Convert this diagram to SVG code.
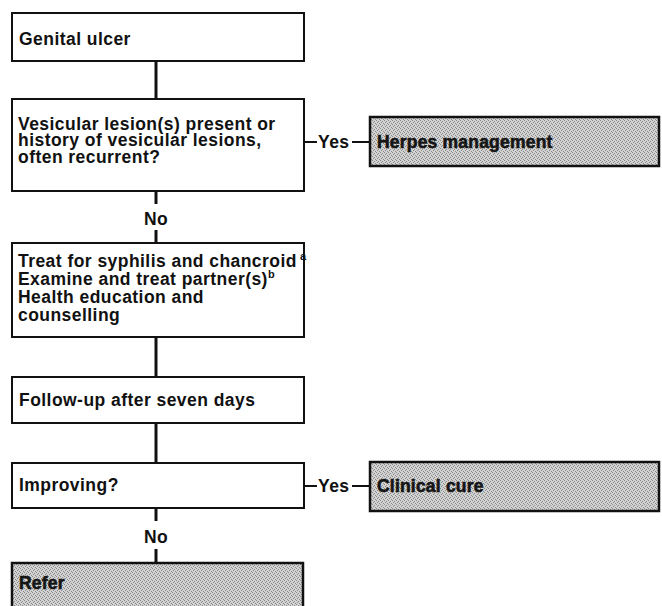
<svg xmlns="http://www.w3.org/2000/svg" width="662" height="606" viewBox="0 0 662 606">
<style>
  .box { fill: #ffffff; stroke: #111; stroke-width: 2; }
  .shade { fill: url(#stipple); stroke: #111; stroke-width: 2.5; }
  .t { font-family: "Liberation Sans", Arial, Helvetica, sans-serif; font-weight: bold; font-size: 17.5px; letter-spacing: 0.45px; fill: #111; }
  .ts { fill: #151515; stroke: #151515; stroke-width: 0.6px; letter-spacing: 0.2px; }
  .c { stroke: #111; stroke-width: 3; fill: none; }
  .h { stroke: #111; stroke-width: 2; fill: none; }
</style>
<defs>
  <pattern id="stipple" width="4" height="4" patternUnits="userSpaceOnUse">
    <rect width="4" height="4" fill="#d2d2d2"/>
    <rect x="0" y="0" width="1" height="1" fill="#8a8a8a"/>
    <rect x="2" y="1" width="1" height="1" fill="#8a8a8a"/>
    <rect x="1" y="2" width="1" height="1" fill="#8a8a8a"/>
    <rect x="3" y="3" width="1" height="1" fill="#8a8a8a"/>
  </pattern>
</defs>
<rect width="662" height="606" fill="#ffffff"/>

<g id="connectors">
  <line class="c" x1="156" y1="61" x2="156" y2="99"/>
  <line class="c" x1="156" y1="191" x2="156" y2="204"/>
  <line class="c" x1="156" y1="230" x2="156" y2="243"/>
  <line class="c" x1="156" y1="337" x2="156" y2="377"/>
  <line class="c" x1="156" y1="423" x2="156" y2="463"/>
  <line class="c" x1="156" y1="508" x2="156" y2="521"/>
  <line class="c" x1="156" y1="549" x2="156" y2="563"/>
  <line class="h" x1="304" y1="142" x2="317" y2="142"/>
  <line class="h" x1="352" y1="142" x2="370" y2="142"/>
  <line class="h" x1="304" y1="486" x2="317" y2="486"/>
  <line class="h" x1="352" y1="486" x2="370" y2="486"/>
  <text class="t" x="156" y="225" text-anchor="middle">No</text>
  <text class="t" x="156" y="543" text-anchor="middle">No</text>
  <text class="t" x="318" y="148">Yes</text>
  <text class="t" x="318" y="492">Yes</text>
</g>

<g id="genital-ulcer">
  <rect class="box" x="12" y="13" width="292" height="48"/>
  <text class="t" x="19" y="45">Genital ulcer</text>
</g>

<g id="vesicular">
  <rect class="box" x="12" y="99" width="292" height="92"/>
  <text class="t"><tspan x="18" y="129.5">Vesicular lesion(s) present or</tspan><tspan x="18" y="146">history of vesicular lesions,</tspan><tspan x="18" y="162.5">often recurrent?</tspan></text>
</g>

<g id="herpes">
  <rect class="shade" x="370" y="117" width="289" height="49"/>
  <text class="t ts" x="377" y="148">Herpes management</text>
</g>

<g id="treat">
  <rect class="box" x="12" y="243" width="292" height="94"/>
  <text class="t"><tspan x="18" y="266.5">Treat for syphilis and chancroid</tspan><tspan dx="3" dy="-7" font-size="11">a</tspan><tspan x="18" y="284.5">Examine and treat partner(s)</tspan><tspan dy="-7" font-size="11">b</tspan><tspan x="18" y="302.5">Health education and</tspan><tspan x="18" y="320.5">counselling</tspan></text>
</g>

<g id="follow-up">
  <rect class="box" x="12" y="377" width="292" height="46"/>
  <text class="t" x="19" y="406">Follow-up after seven days</text>
</g>

<g id="improving">
  <rect class="box" x="12" y="463" width="292" height="45"/>
  <text class="t" x="19" y="491">Improving?</text>
</g>

<g id="clinical-cure">
  <rect class="shade" x="370" y="462" width="289" height="49"/>
  <text class="t ts" x="377" y="492">Clinical cure</text>
</g>

<g id="refer">
  <rect class="shade" x="12" y="563" width="291" height="50"/>
  <text class="t ts" x="19" y="589">Refer</text>
</g>
</svg>
